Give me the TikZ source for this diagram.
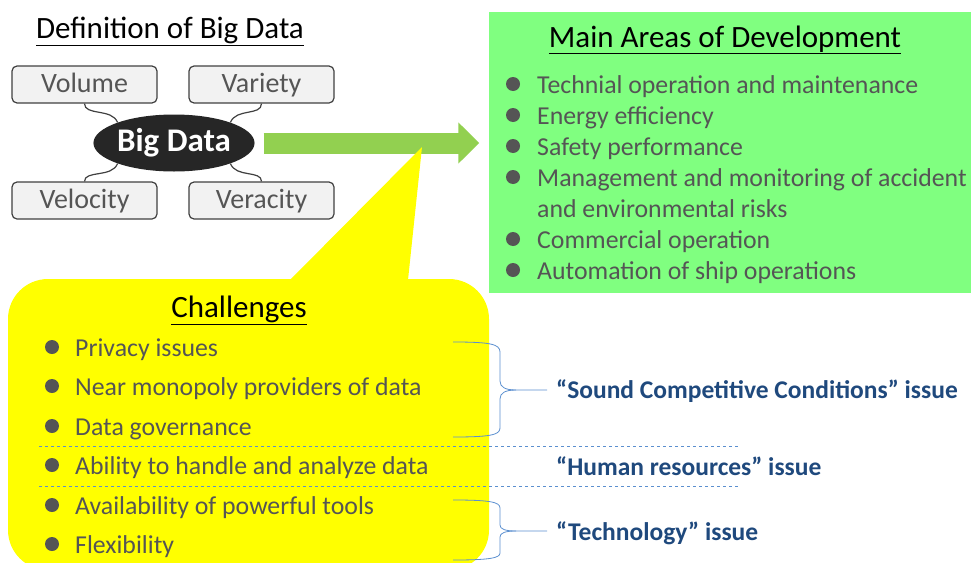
\documentclass[tikz,border=0pt]{standalone}
\usepackage{fontspec}
\setmainfont{Carlito}
\usetikzlibrary{shapes.geometric,arrows.meta}
\definecolor{boxgray}{HTML}{F2F2F2}
\definecolor{edgegray}{HTML}{404040}
\definecolor{txtgray}{HTML}{555555}
\definecolor{arrowgreen}{HTML}{92D050}
\definecolor{areagreen}{HTML}{80FF80}
\definecolor{calloutyellow}{HTML}{FFFF00}
\definecolor{issueblue}{HTML}{1F497D}
\definecolor{linkblue}{HTML}{5B8FCF}
\tikzset{
  vbox/.style={draw=edgegray, line width=1.2pt, fill=boxgray, rounded corners=5pt,
    minimum width=145pt, minimum height=37pt, inner sep=0pt, text=txtgray,
    text height=20pt, text depth=5pt, font=\fontsize{28}{32}\selectfont},
  link/.style={draw=edgegray, line width=1.2pt},
  item/.style={anchor=base west, text=txtgray, font=\fontsize{25.8}{30}\selectfont, inner sep=0pt},
  dot/.style={circle, fill=txtgray, minimum size=14pt, inner sep=0pt},
  heading/.style={anchor=base, text=black, font=\fontsize{31}{36}\selectfont, inner sep=0pt},
  issue/.style={anchor=base west, text=issueblue, font=\bfseries\fontsize{25.5}{30}\selectfont, inner sep=0pt},
  brace/.style={draw=linkblue, line width=0.8pt},
  sep/.style={draw=linkblue, dashed, line width=0.6pt},
}
\begin{document}
\begin{tikzpicture}[x=1pt,y=-1pt]
  \useasboundingbox (0,0) rectangle (971,562);
  \clip (0,0) rectangle (971,562);
  % definition of big data
  \node[heading] (deftitle) at (170,38) {\underline{Definition of Big Data}};
  \draw (84.5,84.5) node[vbox] (volume) {Volume}
        (261.5,84.5) node[vbox] (variety) {Variety}
        (84.5,200.5) node[vbox] (velocity) {Velocity}
        (261.5,200.5) node[vbox] (veracity) {Veracity};
  \node[ellipse, fill=black!85, text=white, minimum width=158pt, minimum height=57pt, inner sep=0pt,
        font=\bfseries\fontsize{33}{36}\selectfont] (bigdata) at (174,143) {Big Data};
  \draw[link] (volume.south) .. controls (84.5,116) and (112,108) .. (bigdata.160);
  \draw[link] (variety.south) .. controls (261.5,116) and (236,108) .. (bigdata.20);
  \draw[link] (velocity.north) .. controls (84.5,170) and (112,178) .. (bigdata.200);
  \draw[link] (veracity.north) .. controls (261.5,170) and (236,178) .. (bigdata.340);
  % main areas
  \node[fill=areagreen, minimum width=483pt, minimum height=281pt, inner sep=0pt] (areas) at (730,152.5) {};
  \node[heading] (areatitle) at (725,47) {\underline{Main Areas of Development}};
  \foreach \y in {93,124,155,186,248,279}
    \node[dot] at (513,\y-9) {};
  \foreach \y/\txt in {93/Technial operation and maintenance, 124/Energy efficiency,
      155/Safety performance, 186/Management and monitoring of accident,
      217/and environmental risks,
      248/Commercial operation, 279/Automation of ship operations}
    \node[item] at (537,\y) {\txt};
  \draw[arrowgreen, line width=21pt, -{Triangle[width=40pt,length=21pt]},
        shorten <=9pt, shorten >=9pt] (bigdata.east) -- (areas.west |- bigdata.east);
  % challenges callout
  \fill[calloutyellow, rounded corners=40pt] (8,279) rectangle (489,570);
  \fill[calloutyellow] (290,280) -- (422,147) -- (408,280) -- cycle;
  \node[heading] (chaltitle) at (239,317) {\underline{Challenges}};
  \foreach \y/\txt in {356/Privacy issues, 395/Near monopoly providers of data,
      435/Data governance, 474/Ability to handle and analyze data,
      514/Availability of powerful tools, 553/Flexibility} {
    \node[dot] at (52,\y-9) {};
    \node[item] at (75,\y) {\txt};
  }
  \draw[sep] (39,446) -- (740,446);
  \draw[sep] (39,486) -- (740,486);
  % issue braces
  \draw[brace] (453,342) .. controls (490,342) and (500,344) .. (500,352) -- (500,381)
    .. controls (500,387) and (505,390) .. (516,390) -- (547,390);
  \draw[brace] (516,390) .. controls (505,390) and (500,393) .. (500,399) -- (500,428)
    .. controls (500,435) and (490,437) .. (453,437);
  \draw[brace] (453,500) .. controls (490,500) and (500,502) .. (500,508) -- (500,525)
    .. controls (500,529) and (505,531) .. (516,531) -- (547,531);
  \draw[brace] (516,531) .. controls (505,531) and (500,533) .. (500,537) -- (500,553)
    .. controls (500,558) and (490,560) .. (453,560);
  \node[issue] (sound) at (556,398) {``Sound Competitive Conditions'' issue};
  \node[issue] (human) at (556,475) {``Human resources'' issue};
  \node[issue] (tech) at (556,540) {``Technology'' issue};
\end{tikzpicture}
\end{document}
